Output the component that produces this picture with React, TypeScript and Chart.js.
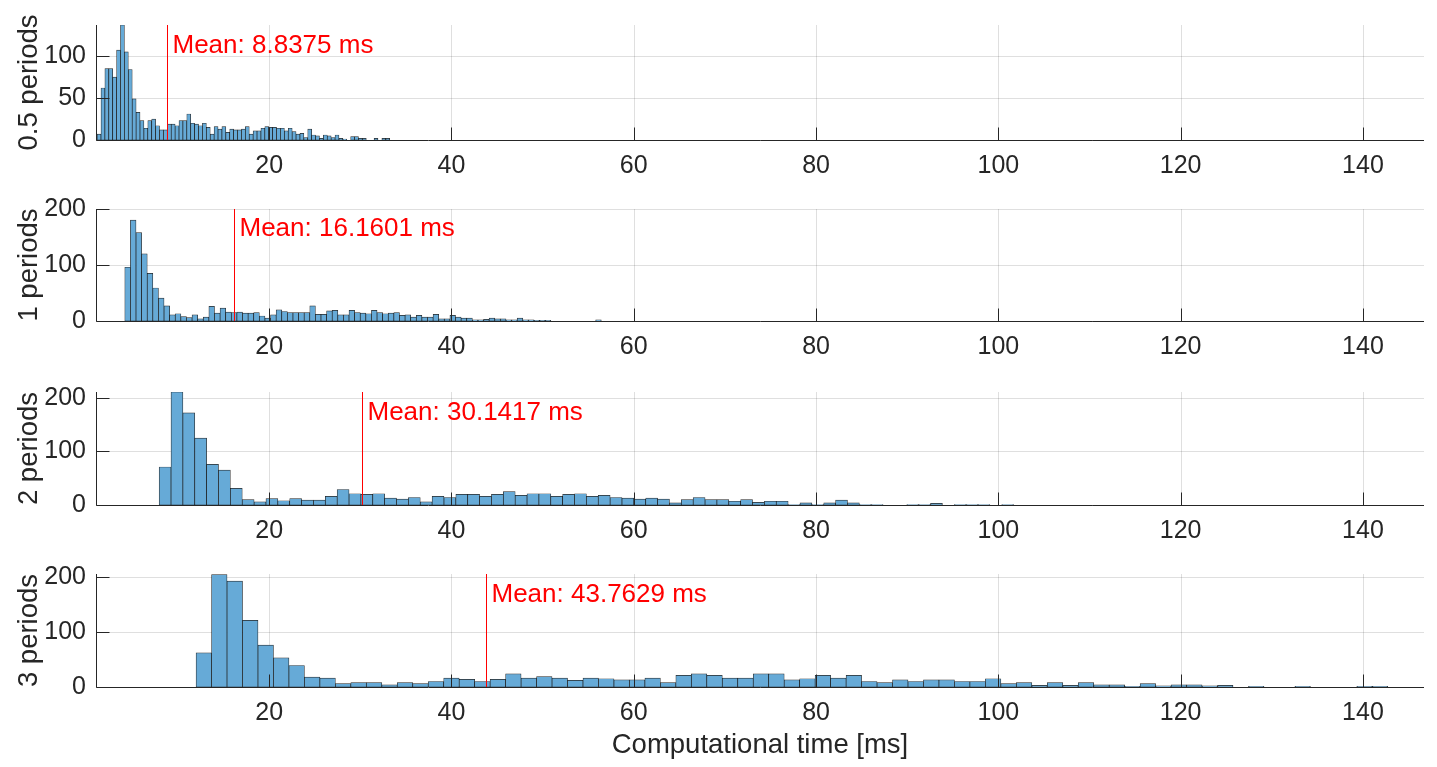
import React, { useEffect, useRef } from "react";
import { Chart, registerables } from "chart.js";

Chart.register(...registerables);

const FONT = '"Liberation Sans", Arial, Helvetica, sans-serif';
const TEXT_COLOR = "#262626";
const GRID_COLOR = "rgba(38,38,38,0.15)";
const BAR_FILL = "rgb(102,170,215)";
const BAR_EDGE = "rgba(0,0,0,0.85)";

// ---- data ----
const xMin = 1;
const xMax = 146.7;
const xTickValues = [20, 40, 60, 80, 100, 120, 140];

const panelLabels = ["0.5 periods", "1 periods", "2 periods", "3 periods"];
const meanValues = [8.8375, 16.1601, 30.1417, 43.7629];
const binStarts = [1.12, 4.16, 7.93, 11.98];
const binWidths = [0.428, 0.615, 1.302, 1.698];
const yMaxes = [137, 200, 211, 205];
const yTicksHalf = [0, 50, 100];
const yTicksOther = [0, 100, 200];
const xLabel = "Computational time [ms]";

const countsHalf = [
  7, 62, 85, 85, 75, 107, 137, 105, 84, 49, 33, 23, 14, 23, 25, 17, 12, 12, 19, 19,
  17, 23, 23, 31, 20, 19, 17, 20, 15, 7, 16, 13, 16, 9, 13, 12, 12, 13, 16, 7,
  11, 11, 14, 16, 15, 15, 14, 14, 11, 14, 10, 7, 8, 3, 13, 6, 5, 2, 6, 5,
  3, 6, 2, 1, 0, 4, 4, 2, 2, 0, 0, 2, 0, 2, 2, 0,
];
const countsOne = [
  96, 180, 158, 120, 85, 59, 41, 27, 11, 13, 8, 6, 11, 4, 7, 26, 14, 23, 16, 15,
  16, 14, 14, 15, 9, 5, 11, 20, 17, 15, 15, 15, 15, 27, 12, 12, 18, 19, 11, 11,
  19, 15, 14, 13, 19, 15, 13, 14, 15, 10, 11, 7, 10, 7, 7, 12, 4, 4, 10, 7,
  5, 5, 2, 2, 3, 5, 4, 4, 2, 2, 5, 2, 2, 1, 1, 1, 0, 0, 0, 0,
  0, 0, 0, 0, 2,
];
const countsTwo = [
  71, 211, 172, 125, 76, 65, 31, 10, 6, 12, 8, 12, 9, 9, 16, 29, 21, 20, 21, 13,
  11, 14, 6, 16, 14, 20, 20, 16, 20, 25, 18, 21, 21, 16, 20, 21, 16, 18, 14, 13,
  11, 13, 11, 4, 10, 14, 10, 10, 7, 10, 5, 7, 7, 1, 4, 1, 4, 9, 4, 1,
  1, 0, 0, 1, 1, 3, 0, 1, 1, 1, 0, 1,
];
const countsThree = [
  62, 204, 192, 121, 76, 53, 39, 18, 16, 6, 8, 8, 4, 8, 6, 10, 16, 14, 10, 14,
  24, 16, 19, 16, 12, 16, 15, 13, 13, 16, 8, 21, 24, 21, 16, 16, 24, 24, 13, 15,
  21, 16, 21, 10, 8, 13, 10, 13, 13, 10, 10, 15, 6, 8, 3, 8, 3, 8, 4, 4,
  1, 6, 2, 4, 4, 2, 3, 0, 1, 0, 0, 1, 0, 0, 0, 1, 1,
];
const allCounts = [countsHalf, countsOne, countsTwo, countsThree];
const allYTicks = [yTicksHalf, yTicksOther, yTicksOther, yTicksOther];

// ---- layout (pixels) ----
const PAGE_W = 1437;
const PAD_TOP = 14;
const AXIS_LEFT_W = 96;
const PAD_RIGHT = 13;
const panelTops = [25, 209, 392, 574];
const panelBottoms = [140, 321, 505, 687];
const xAxisHeights = [45, 45, 45, 80];

const overlayPlugin = {
  id: "overlay",
  beforeDatasetsDraw(chart: any) {
    const { ctx, chartArea } = chart;
    const xs = chart.scales.x;
    const ys = chart.scales.y;
    ctx.save();
    ctx.strokeStyle = GRID_COLOR;
    ctx.lineWidth = 1;
    ctx.beginPath();
    for (const t of xs.ticks) {
      const px = Math.round(xs.getPixelForValue(t.value)) + 0.5;
      ctx.moveTo(px, chartArea.top);
      ctx.lineTo(px, chartArea.bottom);
    }
    for (const t of ys.ticks) {
      if (t.value === 0) continue;
      const py = Math.round(ys.getPixelForValue(t.value)) + 0.5;
      ctx.moveTo(chartArea.left, py);
      ctx.lineTo(chartArea.right, py);
    }
    ctx.stroke();
    ctx.restore();
  },
  afterDatasetsDraw(chart: any, _args: any, opts: any) {
    const { ctx, chartArea } = chart;
    const xs = chart.scales.x;
    const ys = chart.scales.y;
    ctx.save();
    ctx.strokeStyle = TEXT_COLOR;
    ctx.lineWidth = 1;
    ctx.beginPath();
    // axis lines (left and bottom only)
    const left = Math.round(chartArea.left) + 0.5;
    const bottom = Math.round(ys.getPixelForValue(0)) + 0.5;
    ctx.moveTo(left, Math.round(chartArea.top));
    ctx.lineTo(left, bottom);
    ctx.lineTo(Math.round(chartArea.right), bottom);
    // inward tick marks
    for (const t of xs.ticks) {
      const px = Math.round(xs.getPixelForValue(t.value)) + 0.5;
      ctx.moveTo(px, bottom);
      ctx.lineTo(px, bottom - 13);
    }
    for (const t of ys.ticks) {
      const py = Math.round(ys.getPixelForValue(t.value)) + 0.5;
      ctx.moveTo(left, py);
      ctx.lineTo(left + 13, py);
    }
    ctx.stroke();
    // mean line
    const mx = Math.round(xs.getPixelForValue(opts.mean)) + 0.5;
    ctx.strokeStyle = "#ff0000";
    ctx.beginPath();
    ctx.moveTo(mx, ys.getPixelForValue(0));
    ctx.lineTo(mx, ys.getPixelForValue(ys.max));
    ctx.stroke();
    ctx.fillStyle = "#ff0000";
    ctx.font = `26px ${FONT}`;
    ctx.textAlign = "left";
    ctx.textBaseline = "middle";
    ctx.fillText(`Mean: ${opts.mean.toFixed(4)} ms`, mx + 5, ys.getPixelForValue(ys.max * 0.82));
    ctx.restore();
  },
};

function Panel({ idx }: { idx: number }) {
  const ref = useRef<HTMLCanvasElement | null>(null);
  const height = PAD_TOP + (panelBottoms[idx] - panelTops[idx]) + xAxisHeights[idx];
  const top = panelTops[idx] - PAD_TOP;

  useEffect(() => {
    if (!ref.current) return;
    const counts = allCounts[idx];
    const start = binStarts[idx];
    const w = binWidths[idx];
    const yTicks = allYTicks[idx];
    const isLast = idx === 3;
    const chart = new Chart(ref.current, {
      type: "bar",
      data: {
        datasets: [
          {
            data: counts.map((c, i) => ({ x: start + (i + 0.5) * w, y: c })),
            backgroundColor: BAR_FILL,
            borderColor: BAR_EDGE,
            borderWidth: 0.7,
            borderSkipped: false,
            barPercentage: 1,
            categoryPercentage: 1,
          } as any,
        ],
      },
      options: {
        animation: false,
        responsive: false,
        maintainAspectRatio: false,
        layout: { padding: { left: 0, right: PAD_RIGHT, top: PAD_TOP, bottom: 0 } },
        plugins: {
          legend: { display: false },
          tooltip: { enabled: false },
          overlay: { mean: meanValues[idx] },
        } as any,
        scales: {
          x: {
            type: "linear",
            min: xMin,
            max: xMax,
            offset: false,
            grid: { display: false, drawTicks: false, offset: false },
            border: { display: false },
            ticks: {
              color: TEXT_COLOR,
              font: { size: 25, family: FONT },
              padding: 11,
              maxRotation: 0,
              autoSkip: false,
            },
            afterBuildTicks: (s: any) => {
              s.ticks = xTickValues.map((v) => ({ value: v }));
            },
            afterFit: (s: any) => {
              s.height = xAxisHeights[idx];
              s.paddingLeft = 0;
              s.paddingRight = 0;
            },
            title: {
              display: isLast,
              text: xLabel,
              color: TEXT_COLOR,
              font: { size: 27.5, family: FONT },
              padding: { top: 0, bottom: 5 },
            },
          },
          y: {
            type: "linear",
            min: 0,
            max: yMaxes[idx],
            grid: { display: false, drawTicks: false },
            border: { display: false },
            ticks: {
              color: TEXT_COLOR,
              font: { size: 25, family: FONT },
              padding: 10,
            },
            afterBuildTicks: (s: any) => {
              s.ticks = yTicks.map((v) => ({ value: v }));
            },
            afterFit: (s: any) => {
              s.width = AXIS_LEFT_W;
              s.paddingTop = 0;
              s.paddingBottom = 0;
            },
            title: {
              display: true,
              text: panelLabels[idx],
              color: TEXT_COLOR,
              font: { size: 27.5, family: FONT },
              padding: { top: 13, bottom: 0 },
            },
          },
        },
      } as any,
      plugins: [overlayPlugin],
    });
    return () => chart.destroy();
  }, [idx]);

  return (
    <canvas
      ref={ref}
      width={PAGE_W}
      height={height}
      style={{ position: "absolute", left: 0, top, width: PAGE_W, height }}
    />
  );
}

export default function App() {
  return (
    <div
      style={{
        position: "absolute",
        left: 0,
        top: 0,
        width: PAGE_W,
        height: 767,
        background: "#ffffff",
        overflow: "hidden",
      }}
    >
      {[0, 1, 2, 3].map((i) => (
        <Panel key={i} idx={i} />
      ))}
    </div>
  );
}
